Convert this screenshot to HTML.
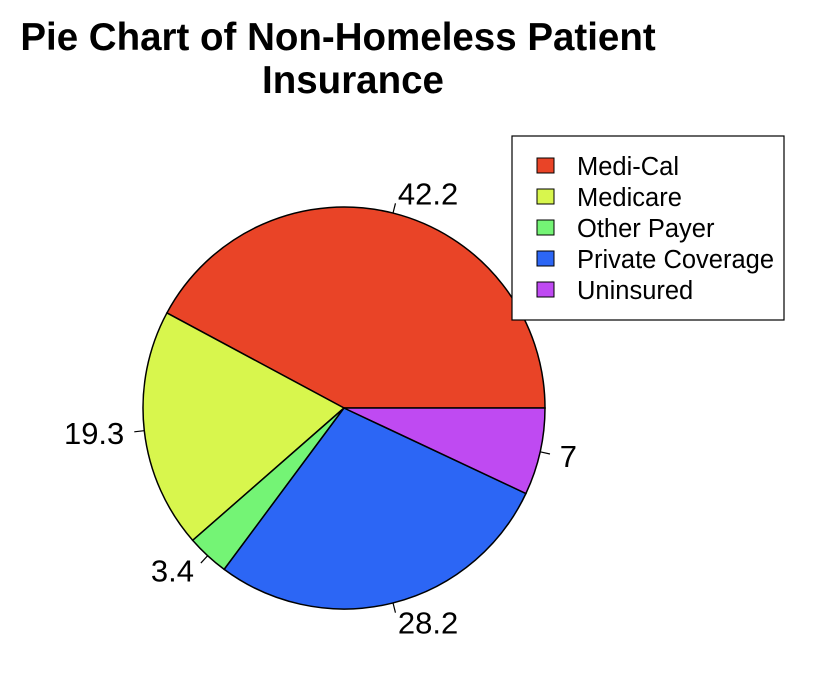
<!DOCTYPE html>
<html><head><meta charset="utf-8">
<style>
html,body{margin:0;padding:0;background:#fff;}
svg{display:block;font-family:"Liberation Sans",Arial,sans-serif;}
</style></head>
<body>
<svg id="chart" width="832" height="686" viewBox="0 0 832 686">
  <text x="338" y="50" font-size="38.5" font-weight="bold" text-anchor="middle">Pie Chart of Non-Homeless Patient</text>
  <text x="353" y="93" font-size="38.5" font-weight="bold" text-anchor="middle">Insurance</text>
  <g id="slices"></g>
  <g id="legend"></g>
</svg>
<script>
const categories = ["Medi-Cal","Medicare","Other Payer","Private Coverage","Uninsured"];
const values = [42.2,19.3,3.4,28.2,7];
const labels = ["42.2","19.3","3.4","28.2","7"];
const colors = ["#E94427","#D8F64D","#74F475","#2C66F5","#BF4AF2"];

const NS="http://www.w3.org/2000/svg";
const cx=344, cy=408, r=201;
const total=values.reduce((a,b)=>a+b,0);
const g=document.getElementById('slices');
function pt(a,rr){return [cx+rr*Math.cos(a), cy-rr*Math.sin(a)];}
let start=0;
values.forEach((v,i)=>{
  const ang=v/total*2*Math.PI, end=start+ang;
  const p0=pt(start,r), p1=pt(end,r);
  const path=document.createElementNS(NS,'path');
  path.setAttribute('d',`M${cx},${cy} L${p0[0]},${p0[1]} A${r},${r} 0 ${ang>Math.PI?1:0} 0 ${p1[0]},${p1[1]} Z`);
  path.setAttribute('fill',colors[i]);path.setAttribute('stroke','#000');path.setAttribute('stroke-width','1.5');
  
  
  g.appendChild(path);
  const mid=(start+end)/2;
  const a=pt(mid,r), b=pt(mid,r*1.05), c=pt(mid,r*1.1);
  const ln=document.createElementNS(NS,'line');
  ln.setAttribute('x1',a[0]);ln.setAttribute('y1',a[1]);ln.setAttribute('x2',b[0]);ln.setAttribute('y2',b[1]);
  ln.setAttribute('stroke','#000');ln.setAttribute('stroke-width','1.2');
  
  
  g.appendChild(ln);
  const t=document.createElementNS(NS,'text');
  t.setAttribute('x',c[0]);t.setAttribute('y',c[1]+11);t.setAttribute('font-size','31');
  t.setAttribute('text-anchor',Math.cos(mid)>0?'start':'end');
  t.textContent=labels[i];
  
  
  g.appendChild(t);
  start=end;
});
const lg=document.getElementById('legend');
const box=document.createElementNS(NS,'rect');
box.setAttribute('x',512);box.setAttribute('y',136);box.setAttribute('width',272);box.setAttribute('height',184);
box.setAttribute('fill','#fff');box.setAttribute('stroke','#000');box.setAttribute('stroke-width','1.2');


lg.appendChild(box);
categories.forEach((c,i)=>{
  const y=166+i*31;
  const s=document.createElementNS(NS,'rect');
  s.setAttribute('x',537);s.setAttribute('y',y-8);s.setAttribute('width',17);s.setAttribute('height',15);
  s.setAttribute('fill',colors[i]);s.setAttribute('stroke','#000');s.setAttribute('stroke-width','1');
  
  
  lg.appendChild(s);
  const t=document.createElementNS(NS,'text');
  t.setAttribute('x',577);t.setAttribute('y',y+9);t.setAttribute('font-size','25.5');
  t.textContent=c;
  
  
  lg.appendChild(t);
});
</script>
</body></html>
